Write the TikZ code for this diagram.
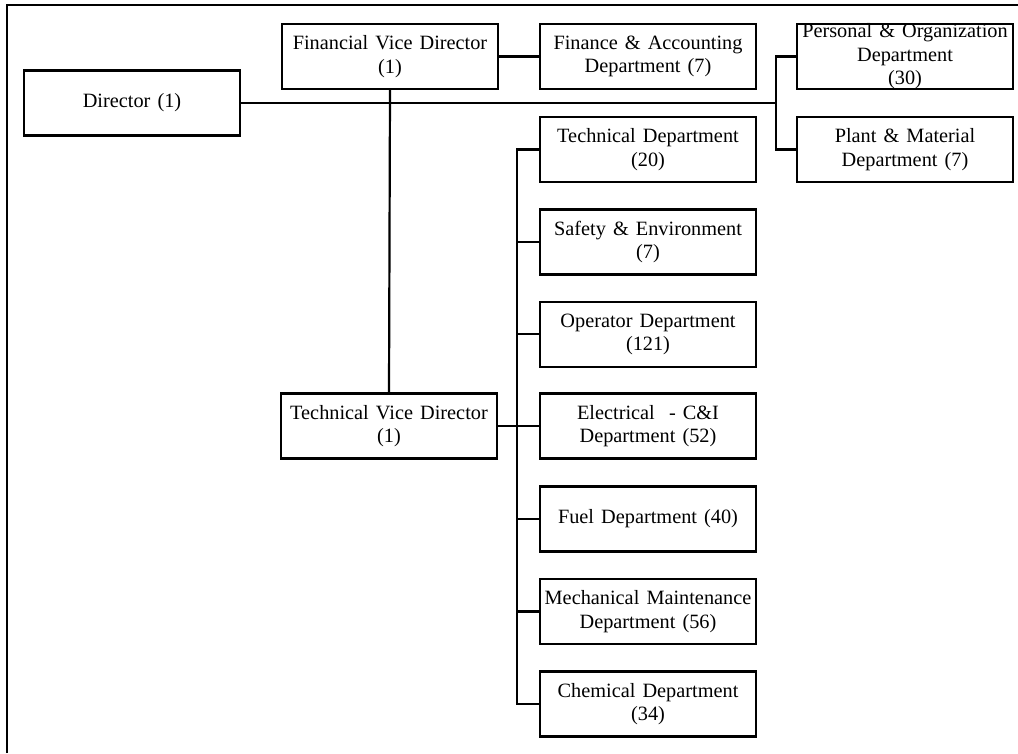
\documentclass[tikz,border=0pt]{standalone}
\usepackage{fontspec}
\setmainfont{Liberation Serif}[WordSpace={1.4,0.3,0.2}]
\begin{document}
\begin{tikzpicture}[x=1pt,y=-1pt,
  box/.style={draw,line width=2.2pt,minimum width=216pt,minimum height=65pt,inner sep=0pt,align=center,
    font=\fontsize{20.3}{23.5}\selectfont},
  conn/.style={line width=2.2pt}]
\useasboundingbox (0,0) rectangle (1018,753);
\draw[line width=2.4pt] (7,753) -- (7,5) -- (1018,5);
\node[box] (dir) at (132,103) {Director (1)};
\node[box] (fvd) at (390,56.5) {Financial Vice Director\\(1)};
\node[box] (fa) at (648,56.5) {Finance \& Accounting\\Department (7)};
\node[box] (pod) at (905,56.5) {Personal \& Organization\\Department\\(30)};
\node[box] (pm) at (905,149.5) {Plant \& Material\\Department (7)};
\node[box] (tvd) at (389,426) {Technical Vice Director\\(1)};
\node[box] (td) at (648,149.5) {Technical Department\\(20)};
\node[box] (se) at (648,241.9) {Safety \& Environment\\(7)};
\node[box] (op) at (648,334.3) {Operator Department\\(121)};
\node[box] (el) at (648,426) {Electrical\ \ - C\&I\\Department (52)};
\node[box] (fu) at (648,519) {Fuel Department (40)};
\node[box] (me) at (648,611.5) {Mechanical Maintenance\\Department (56)};
\node[box] (ch) at (648,704) {Chemical Department\\(34)};
% director to right column
\coordinate (rj) at (777,103);
\draw[conn] (dir.east) -- (rj);
\draw[conn] (pod.west) -- ++(-20,0) |- (pm.west);
% financial
\draw[conn] (fvd.east) -- (fa.west);
\draw[conn] (fvd.south) -- (tvd.north);
% technical trunk
\coordinate (tj) at (518,426);
\draw[conn] (tvd.east) -- (tj);
\draw[conn] (td.west) -- ++(-22,0) |- (ch.west);
\foreach \n in {se,op,el,fu,me}{
  \draw[conn] (\n.west) -- ++(-22,0);
}
\end{tikzpicture}
\end{document}
